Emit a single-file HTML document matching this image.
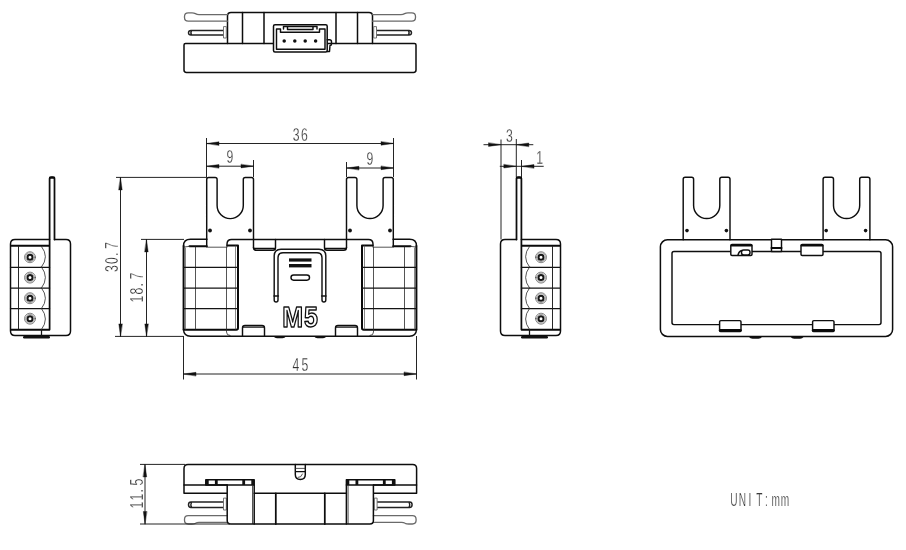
<!DOCTYPE html>
<html lang="en">
<head>
<meta charset="utf-8">
<title>Dimensional drawing</title>
<style>
html,body{margin:0;padding:0;background:#fff}
body{width:906px;height:550px;overflow:hidden}
svg{display:block;will-change:transform}
path,rect,circle,ellipse{fill:none;stroke-linecap:round;stroke-linejoin:round}
.k{stroke:#0d0d0d;stroke-width:1.5}
.kb{stroke:#0d0d0d;stroke-width:1.75}
.k4{stroke:#0a0a0a;stroke-width:2.6}
.kk{stroke:#0a0a0a;stroke-width:2}
.k3{stroke:#111;stroke-width:2.8;stroke-linecap:butt}
.m{stroke:#0e0e0e;stroke-width:1.45}
.m2{stroke:#141414;stroke-width:1.25}
.m3{stroke:#141414;stroke-width:1.45}
.t{stroke:#2a2a2a;stroke-width:0.8}
.t2{stroke:#555;stroke-width:0.7}
.t3{stroke:#777;stroke-width:0.7}
.ring{stroke:#151515;stroke-width:2}
.t5{stroke:#1c1c1c;stroke-width:0.95}
.t4{stroke:#555;stroke-width:0.7}
.d{stroke:#242424;stroke-width:1;stroke-linecap:butt}
.a{fill:#111;stroke:#111;stroke-width:0.4}
.f{fill:#111;stroke:none}
.w{fill:#fff}
.g{stroke:#6a6a6a;stroke-width:1.3}
.g2{stroke:#666;stroke-width:0.9;fill:#fff}
.p{stroke:#222;stroke-width:1.45}
text{font-family:"Liberation Sans",sans-serif}
.tx{fill:#333;stroke:#fff;stroke-width:0.25}
.u{fill:#3a3a3a}
.m5{fill:#fff;stroke:#111;stroke-width:1.5;stroke-linejoin:round;font-weight:bold}
</style>
</head>
<body>
<svg width="906" height="550" viewBox="0 0 906 550">
<g><path class="k" d="M184,45 q0,-1.5 1.5,-1.5 H414.5 q1.5,0 1.5,1.5 V70 q0,2.4 -2.4,2.4 H186.4 q-2.4,0 -2.4,-2.4 Z"/><path class="k" d="M227.5,43.5 V16 q0,-3.5 3.5,-3.5 H369 q3.5,0 3.5,3.5 V43.5"/><path class="k" d="M242.5,12.5 V43.5 M264,12.5 V43.5 M336,12.5 V43.5 M357.5,12.5 V43.5"/><rect class="k w" x="273.5" y="24.7" width="53.7" height="27.3" rx="1.5"/><path class="m" d="M276.5,29 H280.5 V32.3 H319.5 V29 H325 V49.3 H276.5 Z"/><path class="m" d="M283.5,29 V26.5 H317 V29 M287.5,26.5 V29.5 H313 V26.5"/><circle class="f" cx="284.2" cy="41" r="1.75"/><circle class="f" cx="294.8" cy="41" r="1.75"/><circle class="f" cx="305.2" cy="41" r="1.75"/><circle class="f" cx="315.6" cy="41" r="1.75"/><path class="m" d="M327.2,39.8 H329.5 q2,0 2,2 V44 q0,1.5 -1.5,1.5 L329.5,51.5 H327.2"/><path class="g" d="M227.5,14.6 H199 q-2,0 -3.6,-1 q-1.4,-0.7 -3.4,-0.7 H188.2 q-3.7,0 -3.7,3.7 V17.5 q0,3.7 3.7,3.7 H227.5"/><path class="p" d="M223.5,30.4 H191 q-2.5,0 -2.5,2.3 q0,2.3 2.5,2.3 H223.5 M191.5,30.6 q-1.2,2.1 0,4.2"/><path class="g2" d="M223.5,27 V38 H226.3 V27 Z"/><g transform="translate(600,0) scale(-1,1)"><path class="g" d="M227.5,14.6 H199 q-2,0 -3.6,-1 q-1.4,-0.7 -3.4,-0.7 H188.2 q-3.7,0 -3.7,3.7 V17.5 q0,3.7 3.7,3.7 H227.5"/><path class="p" d="M223.5,30.4 H191 q-2.5,0 -2.5,2.3 q0,2.3 2.5,2.3 H223.5 M191.5,30.6 q-1.2,2.1 0,4.2"/><path class="g2" d="M223.5,27 V38 H226.3 V27 Z"/></g></g>
<g><path class="m" d="M253.5,247.5 q0,2.8 2.8,2.8 H273 q2.5,0 2.5,-2.5 V239.5"/><circle class="f" cx="210" cy="230.5" r="1.9"/><circle class="f" cx="250" cy="230.5" r="1.9"/><path class="m" d="M183.5,246 q0,-6.7 7,-6.7 H207"/><path class="kk" d="M183.6,246 V329.8 H236.3 q1.7,0 1.7,-1.7 V245.5 H227.5"/><path class="kk" d="M189.5,246.2 H206.8"/><path class="t" d="M184,247 L190,246.3 M206.8,247.2 H227"/><path class="t4" d="M185.5,248 V329 M235.5,246 V329"/><path class="m" d="M254,248.4 H275"/><path class="t" d="M195.5,247 V329 M226.5,247 V332 q0,3.5 3.5,3.5"/><path class="m2" d="M183.5,267.3 H238 M183.5,288 H238 M183.5,308.5 H238"/><path class="m" d="M242.5,336 V327.9 q0,-2.5 2.5,-2.5 H262 q2.5,0 2.5,2.5 V336"/><path class="m2" d="M243,327.2 H264"/><path class="m3" d="M274,296 H278.4"/><path class="f" d="M273,336 q2,2.3 4,2.3 h5.5 q2,0 4,-2.3 Z"/><g transform="translate(600,0) scale(-1,1)"><path class="m" d="M253.5,247.5 q0,2.8 2.8,2.8 H273 q2.5,0 2.5,-2.5 V239.5"/><circle class="f" cx="210" cy="230.5" r="1.9"/><circle class="f" cx="250" cy="230.5" r="1.9"/><path class="m" d="M183.5,246 q0,-6.7 7,-6.7 H207"/><path class="kk" d="M183.6,246 V329.8 H236.3 q1.7,0 1.7,-1.7 V245.5 H227.5"/><path class="kk" d="M189.5,246.2 H206.8"/><path class="t" d="M184,247 L190,246.3 M206.8,247.2 H227"/><path class="t4" d="M185.5,248 V329 M235.5,246 V329"/><path class="m" d="M254,248.4 H275"/><path class="t" d="M195.5,247 V329 M226.5,247 V332 q0,3.5 3.5,3.5"/><path class="m2" d="M183.5,267.3 H238 M183.5,288 H238 M183.5,308.5 H238"/><path class="m" d="M242.5,336 V327.9 q0,-2.5 2.5,-2.5 H262 q2.5,0 2.5,2.5 V336"/><path class="m2" d="M243,327.2 H264"/><path class="m3" d="M274,296 H278.4"/><path class="f" d="M273,336 q2,2.3 4,2.3 h5.5 q2,0 4,-2.3 Z"/></g><path class="m" d="M206.7,246.5 V179.4 q0,-2 2,-2 h6.4 q2,0 2,2 V205.5 a13.1,13.1 0 0 0 26.2,0 V179.4 q0,-2 2,-2 h6.2 q2,0 2,2 V247.5"/><path class="m" d="M346.5,247.5 V179.4 q0,-2 2,-2 h6.4 q2,0 2,2 V205.5 a13.1,13.1 0 0 0 26.2,0 V179.4 q0,-2 2,-2 h6.2 q2,0 2,2 V246.5"/><path class="m" d="M227,246 V244 q0,-4.6 4.6,-4.6 H368.4 q4.6,0 4.6,4.6 V246 M183.5,329.8 q0.4,6.4 7,6.4 H409.5 q6.6,0 7,-6.4"/><path class="m3" d="M276.1,302 q-1.9,0 -1.9,-2 V256 q0,-6.8 6.8,-6.8 H319 q6.8,0 6.8,6.8 V300 q0,2 -1.9,2 q-1.9,0 -1.9,-2 V257.8 q0,-5 -5,-5 H283 q-5,0 -5,5 V300 q0,2 -1.9,2"/><rect class="f" x="289" y="258.4" width="22.5" height="3.2"/><rect class="f" x="289" y="264" width="22.5" height="3.4"/><rect class="m" x="291" y="275" width="18.5" height="5.2" rx="2.6"/><text class="m5" transform="translate(282.2,326.7) scale(0.84,1)" x="0 26" y="0" font-size="29.8">M5</text></g>
<g><path class="k" d="M49.6,239.5 H15 q-4.5,0 -4.5,4.5 V331 q0,4.5 4.5,4.5 H66 q4.5,0 4.5,-4.5 V244 q0,-4.5 -4.5,-4.5 H54.5"/><path class="kb" d="M49.6,329.5 V178.6 q0,-1.6 1.6,-1.6 h1.7 q1.6,0 1.6,1.6 V239.5"/><path class="kk" d="M50,177.8 H54.2"/><path class="kk" d="M11.3,245.7 H49 M11.3,329.7 H49"/><path class="m2" d="M10.5,267.4 H49.6 M10.5,288 H49.6 M10.5,308.5 H49.6"/><path class="t5" d="M18.5,246.5 V329"/><path class="m2" d="M41.5,329.5 V335.5"/><circle class="t2" cx="30" cy="257.2" r="5.5"/><circle class="t3" cx="30" cy="257.2" r="4.4"/><circle class="ring" cx="30" cy="257.2" r="2.5"/><circle class="t2" cx="30" cy="277.6" r="5.5"/><circle class="t3" cx="30" cy="277.6" r="4.4"/><circle class="ring" cx="30" cy="277.6" r="2.5"/><circle class="t2" cx="30" cy="298.2" r="5.5"/><circle class="t3" cx="30" cy="298.2" r="4.4"/><circle class="ring" cx="30" cy="298.2" r="2.5"/><circle class="t2" cx="30" cy="318.7" r="5.5"/><circle class="t3" cx="30" cy="318.7" r="4.4"/><circle class="ring" cx="30" cy="318.7" r="2.5"/><path class="t" d="M41.5,246.5 Q49.5,256.75 41.5,267 M41.5,267 Q49.5,277.5 41.5,288 M41.5,288 Q49.5,298.25 41.5,308.5 M41.5,308.5 Q49.5,319 41.5,329.5 "/><rect class="f" x="23" y="336" width="27" height="2.5" rx="1.2"/></g>
<g transform="translate(571,0) scale(-1,1)"><path class="k" d="M49.6,239.5 H15 q-4.5,0 -4.5,4.5 V331 q0,4.5 4.5,4.5 H66 q4.5,0 4.5,-4.5 V244 q0,-4.5 -4.5,-4.5 H54.5"/><path class="kb" d="M49.6,329.5 V178.6 q0,-1.6 1.6,-1.6 h1.7 q1.6,0 1.6,1.6 V239.5"/><path class="kk" d="M50,177.8 H54.2"/><path class="kk" d="M11.3,245.7 H49 M11.3,329.7 H49"/><path class="m2" d="M10.5,267.4 H49.6 M10.5,288 H49.6 M10.5,308.5 H49.6"/><path class="t5" d="M18.5,246.5 V329"/><path class="m2" d="M41.5,329.5 V335.5"/><circle class="t2" cx="30" cy="257.2" r="5.5"/><circle class="t3" cx="30" cy="257.2" r="4.4"/><circle class="ring" cx="30" cy="257.2" r="2.5"/><circle class="t2" cx="30" cy="277.6" r="5.5"/><circle class="t3" cx="30" cy="277.6" r="4.4"/><circle class="ring" cx="30" cy="277.6" r="2.5"/><circle class="t2" cx="30" cy="298.2" r="5.5"/><circle class="t3" cx="30" cy="298.2" r="4.4"/><circle class="ring" cx="30" cy="298.2" r="2.5"/><circle class="t2" cx="30" cy="318.7" r="5.5"/><circle class="t3" cx="30" cy="318.7" r="4.4"/><circle class="ring" cx="30" cy="318.7" r="2.5"/><path class="t" d="M41.5,246.5 Q49.5,256.75 41.5,267 M41.5,267 Q49.5,277.5 41.5,288 M41.5,288 Q49.5,298.25 41.5,308.5 M41.5,308.5 Q49.5,319 41.5,329.5 "/><rect class="f" x="23" y="336" width="27" height="2.5" rx="1.2"/></g>
<g><circle class="f" cx="687" cy="230.6" r="1.8"/><circle class="f" cx="726.4" cy="230.6" r="1.8"/><path class="f" d="M748.5,336.4 q2,2.3 4,2.3 h6 q2,0 4,-2.3 Z"/><g transform="translate(1552.6,0) scale(-1,1)"><circle class="f" cx="687" cy="230.6" r="1.8"/><circle class="f" cx="726.4" cy="230.6" r="1.8"/><path class="f" d="M748.5,336.4 q2,2.3 4,2.3 h6 q2,0 4,-2.3 Z"/></g><path class="m" d="M683.2,239.8 V179.2 q0,-2 2,-2 h6.4 q2,0 2,2 V205.5 a13.1,13.1 0 0 0 26.2,0 V179.2 q0,-2 2,-2 h6.2 q2,0 2,2 V239.8"/><path class="m" d="M823.1,239.8 V179.2 q0,-2 2,-2 h6.4 q2,0 2,2 V205.5 a13.1,13.1 0 0 0 26.2,0 V179.2 q0,-2 2,-2 h6.2 q2,0 2,2 V239.8"/><rect class="k" x="660.4" y="239.8" width="232.2" height="96.6" rx="7"/><rect class="m" x="672" y="251.5" width="209" height="73.1" rx="2"/><rect class="m w" x="730.8" y="244.5" width="21.2" height="11" rx="1.2"/><path class="kk" d="M731.5,245.6 H751.5"/><rect class="m w" x="741.5" y="250" width="8.5" height="5" rx="2.2"/><path class="m" d="M738,255 q1,-4 4,-4.5"/><rect class="m w" x="801" y="244.5" width="22" height="11" rx="1.2"/><path class="kk" d="M801.5,245.6 H822.5"/><rect class="m w" x="771.5" y="239.3" width="10" height="12.2"/><path class="kk" d="M771.5,248 H781.5"/><rect class="m w" x="719.6" y="320.6" width="21.4" height="11" rx="1.2"/><path class="k4" d="M720.2,330.3 H740.4"/><rect class="m w" x="812.6" y="320.6" width="21.4" height="11" rx="1.2"/><path class="k4" d="M813.2,330.3 H833.4"/></g>
<g><path class="m" d="M184,485 H227"/><rect class="k" x="205.8" y="479.8" width="48.4" height="5.2"/><path class="k3" d="M207.3,480 V485 M216.3,480 V485 M243.7,480 V485 M252.7,480 V485"/><path class="k" d="M254.2,485 V524"/><path class="kb" d="M275.8,493.3 V524"/><path class="t" d="M252.5,485.5 V523.5"/><path class="g" d="M227.2,515.7 H188.2 q-3.7,0 -3.7,3.7 V520.3 q0,3.7 3.7,3.7 H192 q2,0 3.4,-0.7 q1.6,-0.9 3.6,-0.9 H227.2"/><path class="p" d="M223.5,502 H191 q-2.5,0 -2.5,2.7 q0,2.7 2.5,2.7 H223.5 M191.5,502.3 q-1.2,2.4 0,4.8"/><path class="g2" d="M223.5,498.5 V510 H226.3 V498.5 Z"/><g transform="translate(600.6,0) scale(-1,1)"><path class="m" d="M184,485 H227"/><rect class="k" x="205.8" y="479.8" width="48.4" height="5.2"/><path class="k3" d="M207.3,480 V485 M216.3,480 V485 M243.7,480 V485 M252.7,480 V485"/><path class="k" d="M254.2,485 V524"/><path class="kb" d="M275.8,493.3 V524"/><path class="t" d="M252.5,485.5 V523.5"/><path class="g" d="M227.2,515.7 H188.2 q-3.7,0 -3.7,3.7 V520.3 q0,3.7 3.7,3.7 H192 q2,0 3.4,-0.7 q1.6,-0.9 3.6,-0.9 H227.2"/><path class="p" d="M223.5,502 H191 q-2.5,0 -2.5,2.7 q0,2.7 2.5,2.7 H223.5 M191.5,502.3 q-1.2,2.4 0,4.8"/><path class="g2" d="M223.5,498.5 V510 H226.3 V498.5 Z"/></g><path class="k" d="M227,493.3 H184 V468.5 q0,-4 4,-4 H412.6 q4,0 4,4 V493.3 H373.6 M227.2,485 V520.5 q0,3.5 3.5,3.5 H369.9 q3.5,0 3.5,-3.5 V485 M254.2,493.3 H346.4"/><path class="m" d="M295.3,464.5 V474.5 q0,5 5,5 q5,0 5,-5 V464.5 M295.3,471.6 H305.3"/><path class="t" d="M295.5,468.4 H305 M298,477.5 q3,0.5 4.5,-3.5"/></g>
<g><path class="d" d="M206.5,138 V177 M393.5,138 V177 M206.5,143.5 H393.5"/><path class="a" d="M206.5,143.5 L219,141.8 L219,145.2 Z"/><path class="a" d="M393.5,143.5 L381,145.2 L381,141.8 Z"/><path class="d" d="M253.5,160 V177 M206.5,166.2 H253.5"/><path class="a" d="M206.5,166.2 L219,164.5 L219,167.9 Z"/><path class="a" d="M253.5,166.2 L241,167.9 L241,164.5 Z"/><path class="d" d="M346.5,162 V177 M346.5,168 H393.5"/><path class="a" d="M346.5,168 L359,166.3 L359,169.7 Z"/><path class="a" d="M393.5,168 L381,169.7 L381,166.3 Z"/><path class="d" d="M116,177.4 H207 M115,336.4 H183.5 M120.5,177.4 V336.4"/><path class="a" d="M120.5,177.4 L122.2,189.9 L118.8,189.9 Z"/><path class="a" d="M120.5,336.4 L118.8,323.9 L122.2,323.9 Z"/><path class="d" d="M141,239.4 H184 M146.5,239.4 V336.4"/><path class="a" d="M146.5,239.4 L148.2,251.9 L144.8,251.9 Z"/><path class="a" d="M146.5,336.4 L144.8,323.9 L148.2,323.9 Z"/><path class="d" d="M183.5,336 V379.5 M416.5,336 V379.5 M183.5,374 H416.5"/><path class="a" d="M183.5,374 L196,372.3 L196,375.7 Z"/><path class="a" d="M416.5,374 L404,375.7 L404,372.3 Z"/><path class="d" d="M501,139.5 V239.5 M516.3,139 V177 M521.5,160 V177 M483.5,144.7 H533.3 M499.8,166.3 H543.7"/><path class="a" d="M501,144.7 L488.5,146.4 L488.5,143 Z"/><path class="a" d="M516.3,144.7 L528.8,143 L528.8,146.4 Z"/><path class="a" d="M516.3,166.3 L503.8,168 L503.8,164.6 Z"/><path class="a" d="M521.5,166.3 L534,164.6 L534,168 Z"/><path class="d" d="M140,464.4 H185 M140,524 H230 M145,464.4 V524"/><path class="a" d="M145,464.4 L146.7,476.9 L143.3,476.9 Z"/><path class="a" d="M145,524 L143.3,511.5 L146.7,511.5 Z"/></g>
<g class="txt"><text class="tx" transform="translate(292.8,140.6) scale(0.68,1)" x="0 12.06" y="0" font-size="18">36</text><text class="tx" transform="translate(226.5,163) scale(0.68,1)" x="0" y="0" font-size="18">9</text><text class="tx" transform="translate(366.5,165) scale(0.68,1)" x="0" y="0" font-size="18">9</text><text class="tx" transform="translate(292.5,370.8) scale(0.68,1)" x="0 13.24" y="0" font-size="18">45</text><text class="tx" transform="translate(506,142.2) scale(0.68,1)" x="0" y="0" font-size="18">3</text><text class="tx" transform="translate(536.3,163.8) scale(0.68,1)" x="0" y="0" font-size="18">1</text><text class="tx" transform="translate(118.2,272) rotate(-90) scale(0.68,1)" x="0 11.76 23.53 33.82" y="0" font-size="18">30.7</text><text class="tx" transform="translate(143.4,302.5) rotate(-90) scale(0.68,1)" x="0 11.76 23.53 33.82" y="0" font-size="18">18.7</text><text class="tx" transform="translate(143,508.5) rotate(-90) scale(0.68,1)" x="0 11.76 23.53 33.82" y="0" font-size="18">11.5</text><text class="tx u" transform="translate(730.2,506) scale(0.57,1)" x="0 14.91 32.28 45.61 61.23 72.63 88.6" y="0" font-size="17.8">UNIT:mm</text></g>
</svg>
</body>
</html>
